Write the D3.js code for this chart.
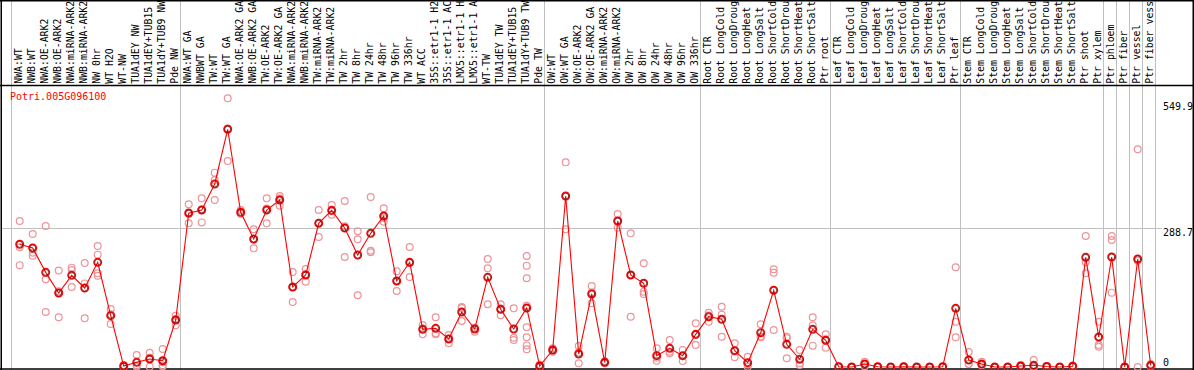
<!DOCTYPE html>
<html>
<head>
<meta charset="utf-8">
<script src="https://cdn.jsdelivr.net/npm/d3@7"></script>
<style>
html,body{margin:0;padding:0;background:#fff;}
svg{display:block;}
text{font-family:"DejaVu Sans Mono",monospace;font-size:10px;}
</style>
</head>
<body>
<svg id="chart" width="1194" height="370"></svg>
<script>
const title = "Potri.005G096100";
const categories = [
"NWA:WT","NWB:WT","NWA:OE-ARK2","NWB:OE-ARK2","NWA:miRNA-ARK2","NWB:miRNA-ARK2","NW 0hr","WT H2O","WT-NW","TUA1dEY NW","TUA1dEY+TUB15 NW","TUA1dY+TUB9 NW","Pde NW",
"NWA:WT GA","NWBWT GA","TW:WT","TW:WT GA","NWA:OE-ARK2 GA","NWB:OE-ARK2 GA","TW:OE-ARK2","TW:OE-ARK2 GA","NWA:miRNA-ARK2 GA","NWB:miRNA-ARK2 GA","TW:miRNA-ARK2","TW:miRNA-ARK2 GA",
"TW 2hr","TW 8hr","TW 24hr","TW 48hr","TW 96hr","TW 336hr","WT ACC","35S::etr1-1 H2O","35S::etr1-1 ACC","LMX5::etr1-1 H2O","LMX5::etr1-1 ACC","WT-TW","TUA1dEY TW","TUA1dEY+TUB15 TW","TUA1dY+TUB9 TW","Pde TW",
"OW:WT","OW:WT GA","OW:OE-ARK2","OW:OE-ARK2 GA","OW:miRNA-ARK2","OW:miRNA-ARK2 GA","OW 2hr","OW 8hr","OW 24hr","OW 48hr","OW 96hr","OW 336hr",
"Root CTR","Root LongCold","Root LongDrought","Root LongHeat","Root LongSalt","Root ShortCold","Root ShortDrought","Root ShortHeat","Root ShortSalt","Ptr root",
"Leaf CTR","Leaf LongCold","Leaf LongDrought","Leaf LongHeat","Leaf LongSalt","Leaf ShortCold","Leaf ShortDrought","Leaf ShortHeat","Leaf ShortSalt","Ptr leaf",
"Stem CTR","Stem LongCold","Stem LongDrought","Stem LongHeat","Stem LongSalt","Stem ShortCold","Stem ShortDrought","Stem ShortHeat","Stem ShortSalt","Ptr shoot","Ptr xylem",
"Ptr phloem","Ptr fiber","Ptr vessel","Ptr fiber vessel"
];
// labels are shown truncated to this many characters, as in the original
const labelMaxChars = 14;
// index (0-based) of the last category in each group
const groupEnds = [12, 40, 52, 62, 72, 83, 84, 85, 86, 87];

const means = [
255.4,247.7,197,154,190.8,164.4,217.9,106.8,2,9.7,16.6,13,97.8,
320,326.8,381,494.8,322,266.4,326.8,347.6,166.5,191.5,299,326,
289.3,233,278.2,314.3,179,217.9,78.4,80.5,58.3,114.5,79,186.6,120,79,122.8,2,
35.4,356,27,152,9.7,303.9,191.5,174.2,23.6,38.9,23.6,68,
104.7,99.3,34,9,71.4,159.7,47.2,16,78.4,55.5,
0.6,0,6.2,0.5,0,0.5,0,0,0.5,122.1,
14.6,6.2,0,0,2,3.5,1,0,1.5,228.3,62.4,
229,0,224.8,3.5
];

const replicates = [
[304,249,212],[276.8,238,231.7],[293.5,182.5,114.5],[201,157.6,103.4],[206.8,202,166.5],[216.5,174,101.3],[251.9,233.8,195,190],[120.7,110,89.5],[4,1.5,0.5],[25,3,1],[29.8,19,0.7],[37.5,10,3,1.5],[106.8,100,86.8],
[338.7,322,299],[351,328,301],[404.5,389,347.6],[559.3,496.3,428.8],[326.8,320,319],[286.6,266,247],[351,330,299],[356,351,335.8],[197.8,166,135.3],[204,193,177.6],[326.8,300,270.6],[337,324,317],
[345.5,293,229],[282.4,265.8,149.2],[353.9,242,238.7],[330.3,310,302.5],[199.2,179.6,158.2],[249.8,216.6,187.3],[87.4,80,68],[103.4,70,68],[66.6,59,49.3],[125,122.8,95.8],[81.8,81.7,73.5],[224.8,205.4,130.5],[130.5,122,107.6],[122.1,61,56.2],[231,210.9,184.6,127.6,82.6,61.8,45,36.8],[5,1,0],
[38.9,35,32],[426,355,286.6],[43.7,30,7.6],[168.6,155,132.6],[12,9,8],[318.5,303,290],[278.2,191.6,104.7],[215.9,156.8,152],[38.9,19,13.1],[56.2,32,28.5],[35.4,23,12.5],[91,67,45.8],
[113,107,94.3],[125.5,109,63.1],[49.3,33,20.2],[21.4,5,0.7],[88.9,63.5,61.8],[203.4,196.3,77],[63.1,60,18.1],[35.4,8.5,4.2],[103.4,87,44.4],[68,58,40.3],
[1.5,0.3,0],[0,0,0],[11,6,1.5],[1,0.5,0],[0,0,0],[1.5,0,0],[0,0,0],[0,0,0],[1,0.5,0],[207.5,94.3,61.8],
[31.2,6.5,6],[11,4,3.5],[0,0,0],[0,0,0],[4,1.5,0.5],[14.6,1,0],[2,1,0],[0,0,0],[3,1,0.5],[272.7,217.9,195],[94.3,45.8,42.3],
[272.7,264.4,154.7],[0,0,0],[453.2,221,0],[6,3,1.5]
];

const yTickValues = [549.9, 288.7, 0];
const yTickLabels = ["549.9", "288.7", "0"];
const yGridValues = [288.7];

const W = 1194, H = 370;
const svg = d3.select("#chart");

const x = d3.scalePoint().domain(d3.range(categories.length)).range([19.7, 1150.7]);
const y = d3.scaleLinear().domain([0, 549.9]).range([367, 102.8]);

const grey = "#c0c0c0";

// vertical group grid lines (full height)
const vLines = [x(0) - 9.2].concat(groupEnds.map(i => x(i) + 4.5));
svg.append("g").selectAll("line").data(vLines).join("line")
  .attr("x1", d => Math.round(d) + 0.5).attr("x2", d => Math.round(d) + 0.5)
  .attr("y1", 0).attr("y2", H)
  .attr("stroke", grey).attr("stroke-width", 1);

// horizontal grid
svg.append("g").selectAll("line").data(yGridValues).join("line")
  .attr("x1", 1).attr("x2", 1162)
  .attr("y1", d => Math.round(y(d)) + 0.5).attr("y2", d => Math.round(y(d)) + 0.5)
  .attr("stroke", grey).attr("stroke-width", 1);

// frame lines
const frame = svg.append("g").attr("stroke", "#000").attr("stroke-width", 1.5);
frame.append("line").attr("x1", 0).attr("x2", W).attr("y1", 0.75).attr("y2", 0.75);
frame.append("line").attr("x1", 0).attr("x2", W).attr("y1", 85.5).attr("y2", 85.5);
frame.append("line").attr("x1", 0).attr("x2", W).attr("y1", H - 1).attr("y2", H - 1);
frame.append("line").attr("x1", 1.25).attr("x2", 1.25).attr("y1", 0).attr("y2", H);
frame.append("line").attr("x1", W - 0.75).attr("x2", W - 0.75).attr("y1", 0).attr("y2", H);

// category labels (rotated, truncated)
svg.append("g").selectAll("text").data(categories).join("text")
  .attr("transform", (d, i) => `translate(${x(i) + 2.5},83.8) rotate(-90)`)
  .attr("text-anchor", "start")
  .style("font-size", "9.85px")
  .attr("fill", "#000")
  .text(d => d.length > labelMaxChars ? d.slice(0, labelMaxChars) : d);

// y labels
svg.append("g").selectAll("text").data(yTickValues).join("text")
  .attr("x", 1163)
  .attr("y", d => d === 0 ? y(d) - 1 : y(d) + 7.5)
  .attr("fill", "#000")
  .text((d, i) => yTickLabels[i]);

// title
svg.append("text").attr("x", 10).attr("y", 100).attr("fill", "#ff0000").text(title);

// replicate points
const repPts = [];
replicates.forEach((arr, i) => arr.forEach(v => repPts.push({i, v})));
svg.append("g").selectAll("circle").data(repPts).join("circle")
  .attr("cx", d => x(d.i)).attr("cy", d => y(d.v)).attr("r", 3.4)
  .attr("fill", "none").attr("stroke", "#ec9499").attr("stroke-width", 1.2);

// mean line
const line = d3.line().x((d, i) => x(i)).y(d => y(d));
svg.append("path").datum(means).attr("d", line)
  .attr("fill", "none").attr("stroke", "#ff0000").attr("stroke-width", 1.1);

// mean markers
const mg = svg.append("g");
mg.selectAll("circle.o").data(means).join("circle").attr("class", "o")
  .attr("cx", (d, i) => x(i)).attr("cy", d => y(d)).attr("r", 3.8)
  .attr("fill", "none").attr("stroke", "#ff0000").attr("stroke-width", 1.4);
mg.selectAll("circle.in").data(means).join("circle").attr("class", "in")
  .attr("cx", (d, i) => x(i)).attr("cy", d => y(d)).attr("r", 3.0)
  .attr("fill", "none").attr("stroke", "#500000").attr("stroke-width", 0.7);
</script>
</body>
</html>
